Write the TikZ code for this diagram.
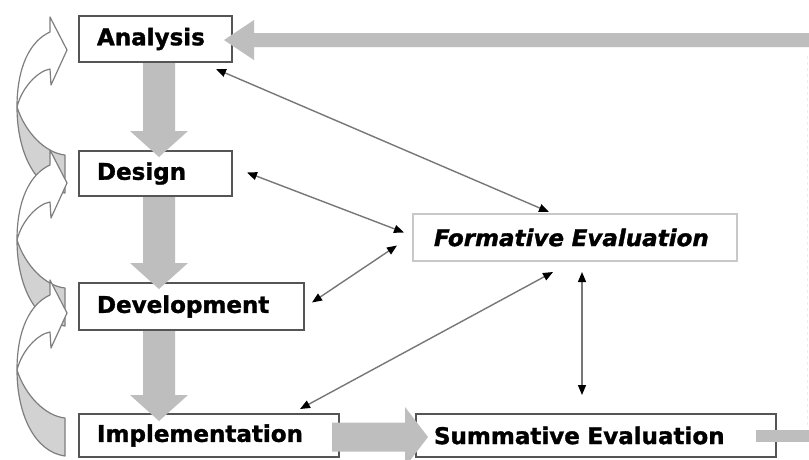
\documentclass[tikz,border=0pt]{standalone}
\usepackage{fontspec}
\setmainfont{DejaVu Sans}[BoldFeatures={FakeBold=1.4},BoldItalicFeatures={FakeBold=1.4}]
\usetikzlibrary{calc,arrows.meta}
\definecolor{blkgray}{HTML}{BEBEBE}
\definecolor{boxline}{HTML}{555555}
\definecolor{thinline}{HTML}{777777}
\definecolor{ribfill}{HTML}{D2D2D2}
\definecolor{ribline}{HTML}{7E7E7E}
\definecolor{formline}{HTML}{C8C8C8}

% vertical block arrow (downwards), from #1 to tip #2
\newcommand{\vblk}[2]{%
 \fill[blkgray] let \p1=(#1), \p2=(#2) in
 (\x1-16pt,\y1) -- (\x1+16pt,\y1) -- (\x1+16pt,\y2+26pt) -- (\x1+29pt,\y2+26pt)
 -- (\x1,\y2) -- (\x1-29pt,\y2+26pt) -- (\x1-16pt,\y2+26pt) -- cycle;}
% rightward block arrow: #1 start, #2 tip, #3 shaft half, #4 head half, #5 head length
\newcommand{\rblk}[5]{%
 \fill[blkgray] let \p1=(#1), \p2=(#2) in
 (\x1,\y2+#3) -- (\x2-#5,\y2+#3) -- (\x2-#5,\y2+#4) -- (\x2,\y2)
 -- (\x2-#5,\y2-#4) -- (\x2-#5,\y2-#3) -- (\x1,\y2-#3) -- cycle;}
% leftward block arrow
\newcommand{\lblk}[5]{%
 \fill[blkgray] let \p1=(#1), \p2=(#2) in
 (\x1,\y2+#3) -- (\x2+#5,\y2+#3) -- (\x2+#5,\y2+#4) -- (\x2,\y2)
 -- (\x2+#5,\y2-#4) -- (\x2+#5,\y2-#3) -- (\x1,\y2-#3) -- cycle;}
% curved ribbon arrow, twist at height #1
\newcommand{\ribbon}[1]{%
 \begin{scope}[shift={(0,#1)}]
  \filldraw[fill=ribfill, draw=ribline, line width=1.2pt, line join=round]
   (17,0) .. controls (25,25) and (45,46) .. (65,48) -- (65,86)
   .. controls (35,82) and (17,45) .. (17,0) -- cycle;
  \filldraw[fill=white, draw=ribline, line width=1.2pt, line join=round]
   (17,0) .. controls (17,-40) and (30,-66) .. (50,-75) -- (50,-90) -- (67,-57)
   -- (51,-22) -- (50,-38) .. controls (38,-36) and (22,-20) .. (17,0) -- cycle;
 \end{scope}}

\tikzset{
 stagebox/.style={draw=boxline, line width=2pt, fill=white, anchor=north west,
   outer sep=0pt, inner xsep=18pt, inner ysep=0pt, align=left,
   font=\fontsize{23}{26}\selectfont\bfseries, text=black},
 evalbox/.style={stagebox, draw=formline, line width=1.8pt, inner xsep=21pt,
   font=\fontsize{23}{26}\selectfont\bfseries\itshape},
 thinarr/.style={draw=thinline, line width=1.4pt,
   >={Triangle[length=10pt,width=8pt,color=black]}, <->},
}

\begin{document}
\begin{tikzpicture}[x=1pt,y=-1pt]
\useasboundingbox (0,0) rectangle (809,459);
\clip (0,0) rectangle (809,459);
\fill[white] (0,0) rectangle (809,459);

% feedback ribbons on the left
\ribbon{107}
\ribbon{240}
\ribbon{370}

% boxes
\node[stagebox, minimum width=153pt, minimum height=46pt, text width=117pt] (A) at (79,16) {Analysis};
\node[stagebox, minimum width=153pt, minimum height=45pt, text width=117pt] (D) at (79,151) {Design};
\node[stagebox, minimum width=225pt, minimum height=47pt, text width=189pt] (Dv) at (79,283) {Development};
\node[stagebox, minimum width=260pt, minimum height=43pt, text width=224pt] (I) at (79,414) {Implementation};
\node[evalbox, minimum width=324pt, minimum height=47pt, text width=282pt] (F) at (413,214) {Formative Evaluation};
\node[stagebox, minimum width=360pt, minimum height=43pt, text width=324pt] (S) at (416,414) {Summative Evaluation};

% outside coordinates
\coordinate (topin) at (809,40);
\coordinate (rightout) at (809,435.5);
\coordinate (looptop) at (807,55);
\coordinate (loopbot) at (807,425);

% thick gray arrows
\vblk{$(A.south west)+(80,1)$}{$(D.north west)+(80,6)$}
\vblk{$(D.south west)+(80,1)$}{$(Dv.north west)+(80,6)$}
\vblk{$(Dv.south west)+(80,1)$}{$(I.north west)+(80,7)$}
\rblk{$(I.east)+(-7,1.5)$}{$(S.west)+(12,1.5)$}{14.5pt}{30pt}{23pt}
\lblk{topin}{$(A.east)+(-8,1)$}{7pt}{20pt}{30pt}
\draw[blkgray, line width=12pt] ($(S.east)+(-20,0)$) -- (rightout);
\draw[black!7, line width=1pt, dash pattern=on 3pt off 3pt] (loopbot) -- (looptop);

% thin double arrows
\draw[thinarr] ($(A.south east)+(-16,7)$) -- ($(F.north west)+(136,-2)$);
\draw[thinarr] ($(D.east)+(15,-1)$) -- ($(F.west)+(-9,-5)$);
\draw[thinarr] ($(Dv.east)+(8,-4)$) -- ($(F.west)+(-16,8)$);
\draw[thinarr] ($(I.north west)+(221,-5)$) -- ($(F.south west)+(140,11)$);
\draw[thinarr] ($(F.south west)+(169,11)$) -- ($(S.north west)+(166,-19)$);
\end{tikzpicture}
\end{document}
